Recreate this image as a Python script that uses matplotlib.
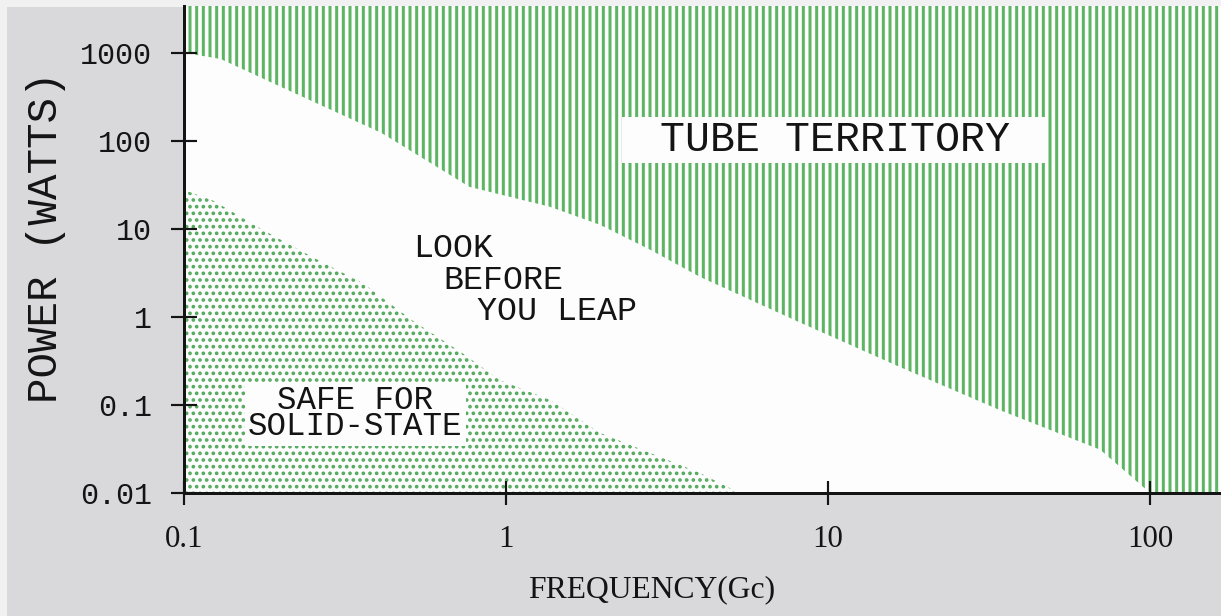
import matplotlib
matplotlib.use("Agg")
import matplotlib.pyplot as plt
from matplotlib.patches import Rectangle, Polygon
from matplotlib.ticker import NullLocator

# Upper edge of the cautionary band: above it is tube territory
tube_freq_ghz = [0.1, 0.13, 0.2, 0.41, 0.77, 1.37, 1.96, 2.8, 4.0, 8.2, 16.7, 34, 70, 100]
tube_power_w = [1000, 850, 410, 123, 30, 17.8, 11.1, 5.8, 2.85, 0.86, 0.27, 0.088, 0.031, 0.01]

# Upper edge of the region that is safe for solid-state devices
solid_freq_ghz = [0.1, 0.123, 0.176, 0.25, 0.36, 0.51, 0.73, 0.96, 1.37, 1.96, 2.8, 4.0, 5.3]
solid_power_w = [27.7, 21, 9.7, 4.8, 2.4, 0.92, 0.39, 0.19, 0.114, 0.048, 0.0285, 0.0169, 0.01]

x_ticks = [0.1, 1, 10, 100]
x_tick_labels = ["0.1", "1", "10", "100"]
y_ticks = [0.01, 0.1, 1, 10, 100, 1000]
y_tick_labels = ["0.01", "0.1", "1", "10", "100", "1000"]
x_limits = (0.1, 166)
y_limits = (0.01, 3400)

GREEN_LINES = "#5db463"
GREEN_DOTS = "#52a95b"
INK = "#141414"
MONO = "Liberation Mono"
SERIF = "Liberation Serif"

W, H, DPI = 1221, 616, 120
fig = plt.figure(figsize=(W / DPI, H / DPI), dpi=DPI)
fig.patch.set_facecolor("#f1f1f1")
fig.add_artist(Rectangle((7 / W, 0), 1, (H - 7) / H, transform=fig.transFigure,
                         facecolor="#d9d9db", edgecolor="none", zorder=-5))

ax = fig.add_axes([184 / W, (H - 493) / H, (W - 184) / W, (493 - 6) / H])
ax.set_facecolor("#fdfdfd")
ax.set_xscale("log")
ax.set_yscale("log")
ax.set_xlim(*x_limits)
ax.set_ylim(*y_limits)


def hatched(verts, hatch, color, lw):
    with plt.rc_context({"hatch.linewidth": lw, "hatch.color": color}):
        p = Polygon(verts, closed=True, facecolor="none", edgecolor=color,
                    linewidth=0, hatch=hatch, zorder=1)
        if hasattr(p, "set_hatch_linewidth"):
            p.set_hatch_linewidth(lw)
    ax.add_patch(p)
    return p


# Tube territory: everything above the upper boundary
tube_verts = list(zip(tube_freq_ghz, tube_power_w)) + [
    (x_limits[1], y_limits[0]), (x_limits[1], y_limits[1]),
    (tube_freq_ghz[0], y_limits[1])]
hatched(tube_verts, "|||", GREEN_LINES, 1.8)

# Solid-state region: everything below the lower boundary
solid_verts = list(zip(solid_freq_ghz, solid_power_w)) + [
    (solid_freq_ghz[0], y_limits[0])]
hatched(solid_verts, "...", GREEN_DOTS, 1.4)

# Axes frame and ticks
for side in ("top", "right"):
    ax.spines[side].set_visible(False)
for side in ("left", "bottom"):
    ax.spines[side].set_linewidth(1.8)
    ax.spines[side].set_color(INK)
    ax.spines[side].set_zorder(6)

ax.set_xticks(x_ticks, x_tick_labels)
ax.set_yticks(y_ticks, y_tick_labels)
ax.xaxis.set_minor_locator(NullLocator())
ax.yaxis.set_minor_locator(NullLocator())
ax.tick_params(axis="y", direction="inout", length=16, width=1.3, pad=11,
               labelsize=18, labelcolor=INK, color=INK, labelfontfamily=MONO)
ax.tick_params(axis="x", direction="inout", length=14, width=1.3, pad=12,
               labelsize=18.5, labelcolor=INK, color=INK, labelfontfamily=SERIF)

ax.set_ylabel("POWER (WATTS)", family=MONO, fontsize=25.5, color=INK)
ax.yaxis.set_label_coords(-0.114, 0.526)
ax.set_xlabel("FREQUENCY(Gc)", family=SERIF, fontsize=19, color=INK)
ax.xaxis.set_label_coords(0.451, -0.168)

# Region labels
ax.add_patch(Rectangle((0.422, 0.678), 0.411, 0.094, transform=ax.transAxes,
                       facecolor="#fdfdfd", edgecolor="none", zorder=4))
ax.text(0.628, 0.725, "TUBE TERRITORY", transform=ax.transAxes, ha="center",
        va="center", family=MONO, fontsize=25, color=INK, zorder=5)

for txt, xa, ya in [("LOOK", 0.221, 0.503), ("BEFORE", 0.250, 0.437),
                    ("YOU LEAP", 0.283, 0.372)]:
    ax.text(xa, ya, txt, transform=ax.transAxes, ha="left", va="center",
            family=MONO, fontsize=20, color=INK, zorder=5)

ax.text(0.165, 0.163, "SAFE FOR\nSOLID-STATE", transform=ax.transAxes,
        ha="center", va="center", multialignment="center", linespacing=0.82,
        family=MONO, fontsize=19.5, color=INK, zorder=5,
        bbox=dict(boxstyle="square,pad=0.1", facecolor="#fdfdfd",
                  edgecolor="none"))

fig.savefig("out.png", dpi=DPI, facecolor=fig.get_facecolor())
